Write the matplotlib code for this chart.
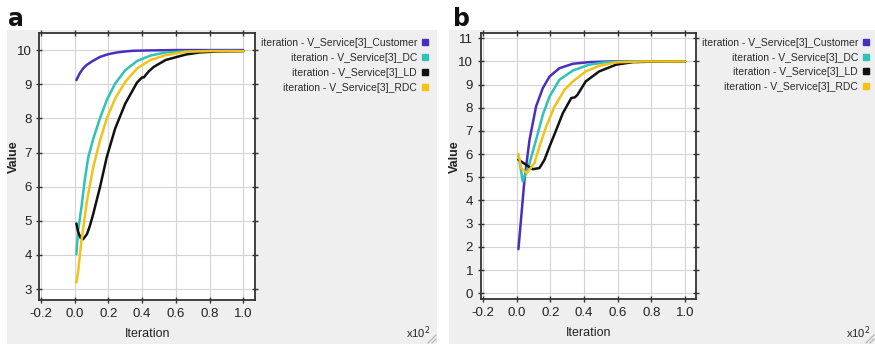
import matplotlib
matplotlib.use("Agg")
import matplotlib.pyplot as plt
from matplotlib.patches import Rectangle
from matplotlib.lines import Line2D

plt.rcParams['font.family'] = ['Liberation Sans Narrow', 'Liberation Sans', 'DejaVu Sans']

# ---- data (x in units of 10^2 iterations) ----
series_names = ["iteration - V_Service[3]_Customer",
                "iteration - V_Service[3]_DC",
                "iteration - V_Service[3]_LD",
                "iteration - V_Service[3]_RDC"]
series_colors = ["#4a2fbf", "#2fc2b6", "#111111", "#f3c214"]

# panel a
a_cust_x = [0.01, 0.03, 0.05, 0.07, 0.10, 0.15, 0.20, 0.25, 0.30, 0.35, 0.45, 0.60, 0.80, 1.00]
a_cust_y = [9.12, 9.32, 9.46, 9.56, 9.66, 9.80, 9.88, 9.93, 9.96, 9.98, 9.99, 10.0, 10.0, 10.0]
a_dc_x = [0.01, 0.02, 0.04, 0.06, 0.08, 0.11, 0.15, 0.19, 0.24, 0.30, 0.37, 0.45, 0.54, 0.65, 0.80, 1.00]
a_dc_y = [4.02, 4.70, 5.40, 6.20, 6.85, 7.40, 8.00, 8.53, 9.02, 9.41, 9.68, 9.84, 9.93, 9.96, 9.97, 9.97]
a_ld_x = [0.01, 0.02, 0.035, 0.05, 0.073, 0.09, 0.11, 0.15, 0.19, 0.24, 0.30, 0.37, 0.40, 0.41, 0.44, 0.47, 0.54, 0.66, 0.74, 0.85, 1.00]
a_ld_y = [4.92, 4.68, 4.50, 4.46, 4.61, 4.85, 5.20, 5.98, 6.86, 7.70, 8.43, 9.05, 9.20, 9.20, 9.38, 9.51, 9.71, 9.87, 9.93, 9.96, 9.97]
a_rdc_x = [0.01, 0.02, 0.04, 0.073, 0.11, 0.15, 0.19, 0.24, 0.30, 0.37, 0.45, 0.54, 0.66, 0.80, 1.00]
a_rdc_y = [3.19, 3.50, 4.41, 5.59, 6.57, 7.35, 7.99, 8.58, 9.07, 9.46, 9.71, 9.85, 9.95, 9.97, 9.97]

# panel b
b_cust_x = [0.01, 0.046, 0.076, 0.115, 0.155, 0.195, 0.254, 0.334, 0.43, 0.55, 0.75, 1.00]
b_cust_y = [1.90, 4.89, 6.62, 8.06, 8.85, 9.35, 9.71, 9.90, 9.97, 10.0, 10.0, 10.0]
b_dc_x = [0.01, 0.036, 0.076, 0.115, 0.155, 0.195, 0.254, 0.334, 0.43, 0.53, 0.70, 1.00]
b_dc_y = [5.97, 4.82, 5.61, 6.62, 7.70, 8.49, 9.21, 9.61, 9.86, 9.97, 10.0, 10.0]
b_ld_x = [0.01, 0.056, 0.095, 0.135, 0.165, 0.195, 0.235, 0.274, 0.324, 0.345, 0.36, 0.41, 0.49, 0.59, 0.69, 0.85, 1.00]
b_ld_y = [5.76, 5.54, 5.35, 5.40, 5.76, 6.33, 7.05, 7.77, 8.42, 8.45, 8.55, 9.14, 9.57, 9.86, 9.97, 10.0, 10.0]
b_rdc_x = [0.01, 0.026, 0.06, 0.105, 0.135, 0.175, 0.225, 0.284, 0.334, 0.41, 0.49, 0.59, 0.75, 1.00]
b_rdc_y = [6.01, 5.40, 5.18, 5.61, 6.33, 7.19, 8.06, 8.78, 9.14, 9.57, 9.81, 9.96, 10.0, 10.0]

a_series = [(a_cust_x, a_cust_y), (a_dc_x, a_dc_y), (a_ld_x, a_ld_y), (a_rdc_x, a_rdc_y)]
b_series = [(b_cust_x, b_cust_y), (b_dc_x, b_dc_y), (b_ld_x, b_ld_y), (b_rdc_x, b_rdc_y)]

x_ticks = [-0.2, 0.0, 0.2, 0.4, 0.6, 0.8, 1.0]
x_ticklabels = ["-0.2", "0.0", "0.2", "0.4", "0.6", "0.8", "1.0"]
a_yticks = [3, 4, 5, 6, 7, 8, 9, 10]
b_yticks = [0, 1, 2, 3, 4, 5, 6, 7, 8, 9, 10, 11]

W, H = 875, 344
fig = plt.figure(figsize=(W / 100, H / 100), dpi=100)
fig.patch.set_facecolor("white")


def fx(px):
    return px / W


def fy(py):
    return 1 - py / H


panel_bg = "#efefef"
# grey window backgrounds
fig.add_artist(Rectangle((fx(7), 0), fx(437 - 7), fy(30), transform=fig.transFigure,
                         facecolor=panel_bg, edgecolor="none", zorder=0))
fig.add_artist(Rectangle((fx(449), 0), fx(875 - 449), fy(30), transform=fig.transFigure,
                         facecolor=panel_bg, edgecolor="none", zorder=0))


def make_panel(left, right, top, bottom, series, yticks, ylim, xlim):
    ax = fig.add_axes([fx(left), fy(bottom), fx(right - left), fy(top) - fy(bottom)])
    ax.set_facecolor("white")
    for (xs, ys), c in zip(series, series_colors):
        ax.plot(xs, ys, color=c, lw=1.8, solid_capstyle="round", zorder=3)
    ax.set_xlim(*xlim)
    ax.set_ylim(*ylim)
    ax.set_xticks(x_ticks)
    ax.set_xticklabels(x_ticklabels)
    ax.set_yticks(yticks)
    ax.grid(True, color="#d4d4d4", lw=0.8, zorder=0)
    ax.tick_params(direction="inout", length=5, width=1.0, color="#333333",
                   top=True, right=True, labelsize=9.5, labelcolor="#222222", pad=3)
    for s in ax.spines.values():
        s.set_color("#333333")
        s.set_linewidth(1.3)
    ax.set_xlabel("Iteration", fontsize=9, color="#222222", labelpad=6)
    return ax


ax_a = make_panel(39.3, 255, 33, 300, a_series, a_yticks, (2.68, 10.5), (-0.21, 1.07))
ax_b = make_panel(480.7, 696, 32.7, 299, b_series, b_yticks, (-0.25, 11.24), (-0.214, 1.065))

# y-axis titles
fig.text(fx(14), fy(157), "Value", rotation=90, ha="center", va="center",
         fontsize=9, fontweight="bold", color="#222222")
fig.text(fx(455), fy(157), "Value", rotation=90, ha="center", va="center",
         fontsize=9, fontweight="bold", color="#222222")


def legend_block(text_right, square_x, rows_y):
    for name, c, py in zip(series_names, series_colors, rows_y):
        fig.text(fx(text_right), fy(py), name, ha="right", va="center",
                 fontsize=7.5, color="#2a2a2a")
        fig.add_artist(Line2D([fx(square_x)], [fy(py - 1)], marker="s", markersize=4,
                              color=c, linestyle="none", transform=fig.transFigure))


legend_block(417, 425, [43, 58, 73, 88])
legend_block(858, 866, [43, 58, 72, 87])

# panel letters
fig.text(fx(8), fy(26), "a", fontsize=17, fontweight="bold", family="DejaVu Sans", color="#111111")
fig.text(fx(453), fy(26), "b", fontsize=17, fontweight="bold", family="DejaVu Sans", color="#111111")

# axis multiplier
fig.text(fx(430), fy(333), r"x10$^2$", fontsize=8, color="#222222", va="center", ha="right")
fig.text(fx(870), fy(333), r"x10$^2$", fontsize=8, color="#222222", va="center", ha="right")

# window resize grips
for gx in (436, 874):
    for d in (4, 8):
        fig.add_artist(Line2D([fx(gx - d), fx(gx)], [fy(343), fy(343 - d)],
                              color="#b0b0b0", lw=0.8, transform=fig.transFigure))

fig.savefig("out.png", dpi=100)
